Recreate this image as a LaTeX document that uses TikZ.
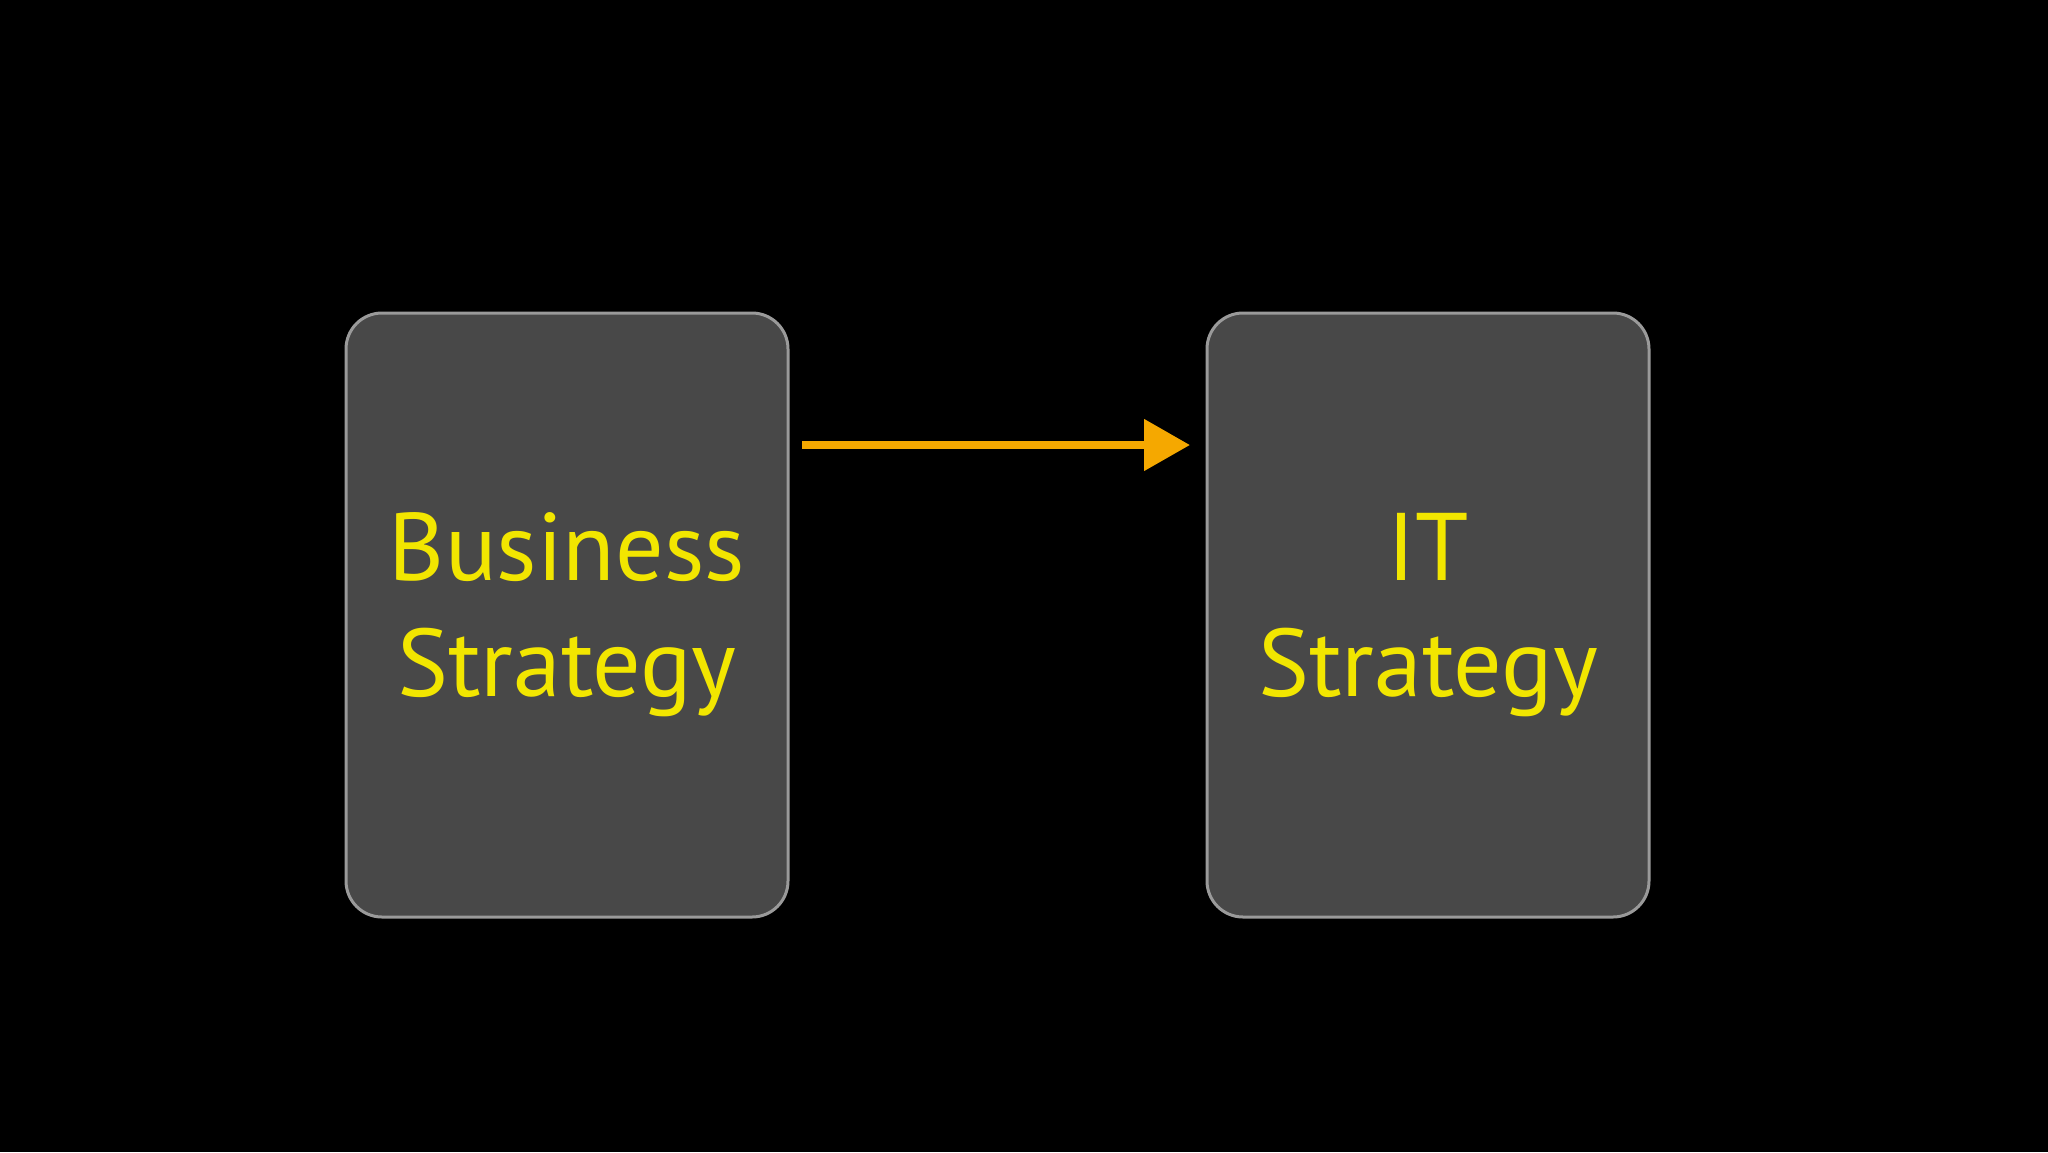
\documentclass[tikz,border=0pt]{standalone}
\usepackage{fontspec}
\setmainfont{PT Sans}
\usetikzlibrary{arrows.meta,shadows.blur}
\definecolor{boxfill}{HTML}{484848}
\definecolor{boxedge}{HTML}{9A9A9A}
\definecolor{txt}{HTML}{F2E600}
\definecolor{arr}{HTML}{F5A800}
\tikzset{
  card/.style={rectangle, rounded corners=36pt, fill=boxfill, draw=boxedge, line width=3pt,
    minimum width=442pt, minimum height=604pt, text=txt, align=center,
    font=\fontsize{96}{116}\selectfont,
    blur shadow={shadow blur steps=8, shadow xshift=0pt, shadow yshift=-14pt, shadow opacity=40, shadow blur radius=14pt}},
  link/.style={arr, line width=8pt, -{Triangle[length=46pt,width=50pt]}}
}
\begin{document}
\begin{tikzpicture}[x=1pt,y=-1pt]
\fill[black] (0,0) rectangle (2048,1152);
\useasboundingbox (0,0) rectangle (2048,1152);
\node[card] (bs) at (567,615) {Business\\Strategy};
\node[card] (it) at (1428,615) {IT\\Strategy};
\coordinate (s) at (802,445);
\coordinate (e) at (1190,445);
\draw[link] (s) -- (e);
\end{tikzpicture}
\end{document}
